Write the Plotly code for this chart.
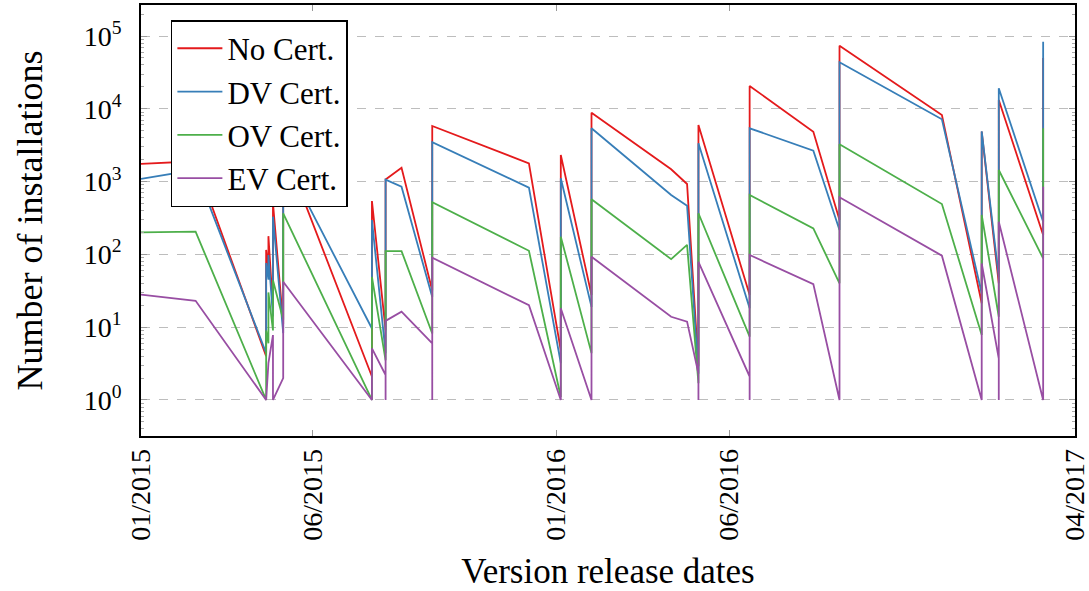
import numpy as np
import plotly.graph_objects as go

# ---- data ----
dates = [
    "2015-01-01", "2015-02-18",
    "2015-04-21", "2015-04-21", "2015-04-23", "2015-04-23",
    "2015-04-27", "2015-04-27", "2015-05-06", "2015-05-06",
    "2015-07-23", "2015-07-23", "2015-08-04", "2015-08-04", "2015-08-04",
    "2015-08-18", "2015-09-14", "2015-09-14", "2015-09-14",
    "2015-12-08", "2016-01-05", "2016-01-05", "2016-02-01", "2016-02-01",
    "2016-04-11", "2016-04-25", "2016-05-05", "2016-05-05", "2016-05-05",
    "2016-06-19", "2016-06-19", "2016-06-19", "2016-08-14",
    "2016-09-06", "2016-09-06", "2016-12-05",
    "2017-01-09", "2017-01-09", "2017-01-24", "2017-01-24", "2017-01-24",
    "2017-03-04", "2017-03-04",
]
no_cert = [
    1750, 1900,
    4, 115, 60, 178,
    18, 505, 11, 3000,
    2.1, 541, 9.1, 9.1, 1070,
    1550, 32, 32, 5800,
    1780, 4.8, 2320, 27.7, 8840,
    1475, 927, 2.9, 2.9, 5990,
    27.7, 27.7, 20600, 4850,
    297, 73600, 8220,
    21.3, 4850, 40, 40, 13200,
    185, 50000,
]
dv_cert = [
    1090, 1450,
    4.4, 76, 45, 98,
    14, 330, 8.3, 2200,
    9.6, 297, 4.4, 4.4, 1060,
    850, 26, 26, 3470,
    825, 3.2, 1110, 19, 5400,
    655, 467, 2.3, 2.3, 3360,
    18.2, 18.2, 5400, 2660,
    216, 43500, 7180,
    29, 4900, 49, 49, 19100,
    281, 83500,
]
ov_cert = [
    200, 205,
    1, 9, 6, 30,
    9, 44, 12.6, 367,
    1, 49, 3.5, 3.5, 111,
    111, 8.2, 8.2, 520,
    112, 1.1, 175, 4.4, 571,
    86, 135, 1.7, 1.7, 367,
    7.4, 7.4, 655, 228,
    40, 3250, 492,
    7.8, 348, 13.9, 13.9, 1443,
    88, 5400,
]
ev_cert = [
    28, 23,
    1, 1, 3.2, 3.2,
    7.8, 1, 2, 42,
    1, 5.1, 2.2, 1, 12.2,
    16.3, 6, 1, 90,
    20, 1, 18.2, 1, 93,
    13.9, 11.9, 2.3, 1, 79,
    2.1, 1, 98, 39,
    1, 608, 96,
    1, 75, 3.7, 1, 281,
    1, 850,
]
series_names = ["No Cert.", "DV Cert.", "OV Cert.", "EV Cert."]
series_colors = ["#e41a1c", "#377eb8", "#4daf4a", "#984ea3"]

x_tick_dates = ["2015-01-01", "2015-06-01", "2016-01-01", "2016-06-01", "2017-04-01"]
x_tick_labels = ["01/2015", "06/2015", "01/2016", "06/2016", "04/2017"]
y_decades = [0, 1, 2, 3, 4, 5]

# ---- figure ----
FONT = "Liberation Serif"
fig = go.Figure()
for name, vals, col in zip(series_names, [no_cert, dv_cert, ov_cert, ev_cert], series_colors):
    fig.add_trace(go.Scatter(x=dates, y=vals, mode="lines", name=name,
                             line=dict(color=col, width=1.8)))

y_tick_vals = [10 ** d for d in y_decades]
y_tick_text = [f"10<sup>{d}</sup>" for d in y_decades]
minor_vals = [m * 10 ** d for d in range(-1, 6) for m in range(2, 10)]

fig.update_layout(
    width=1089, height=591,
    margin=dict(l=141, r=14, t=5, b=155),
    paper_bgcolor="white", plot_bgcolor="white",
    font=dict(family=FONT, color="black", size=28),
    showlegend=True,
    legend=dict(x=0.032, y=0.965, xanchor="left", yanchor="top",
                bgcolor="white", bordercolor="black", borderwidth=1.5,
                font=dict(size=31, family=FONT), tracegroupgap=0,
                itemwidth=45),
    xaxis=dict(
        type="date", range=["2015-01-01", "2017-04-01"],
        tickmode="array", tickvals=x_tick_dates, ticktext=x_tick_labels,
        tickangle=-90, ticks="inside", ticklen=6, tickcolor="#999",
        showline=True, linecolor="black", linewidth=1.6, mirror="allticks",
        showgrid=False, zeroline=False, ticklabeloverflow="allow",
        automargin=False,
        tickfont=dict(size=28, family=FONT),
        title=dict(text="Version release dates", font=dict(size=35, family=FONT), standoff=23),
    ),
    yaxis=dict(
        type="log", range=[-0.495, 5.426],
        tickmode="array", tickvals=y_tick_vals, ticktext=y_tick_text,
        ticks="inside", ticklen=6, tickcolor="#999",
        showline=True, linecolor="black", linewidth=1.6, mirror="allticks",
        showgrid=True, gridcolor="#bdbdbd", griddash="dash", gridwidth=1,
        zeroline=False, ticklabelstandoff=12, automargin=False,
        minor=dict(tickmode="array", tickvals=minor_vals, ticks="inside",
                   ticklen=3, tickcolor="#aaa", showgrid=False),
        tickfont=dict(size=28, family=FONT),
        title=dict(text="Number of installations", font=dict(size=36, family=FONT), standoff=30),
    ),
)

fig.write_html("out.html", config={"displayModeBar": False},
               post_script="document.body.style.margin='0px';")
